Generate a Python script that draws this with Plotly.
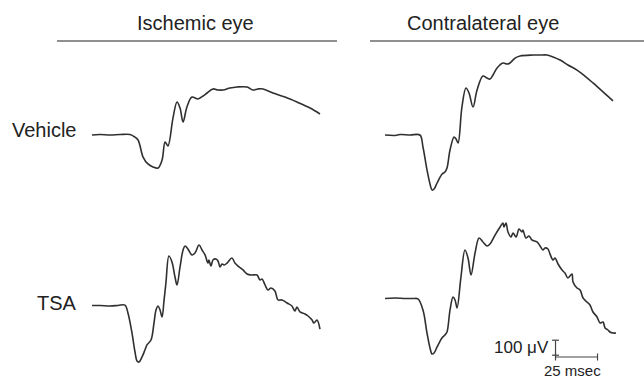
import plotly.graph_objects as go

# ERG waveforms: time in msec, amplitude in microvolts (0 = pre-flash baseline)

# Ischemic eye, vehicle
isch_veh_t = [0, 4.8, 10.7, 16.7, 22.6, 25.0, 27.4, 30.4, 33.3, 36.3, 39.3, 41.7, 43.5, 45.2,
              48.2, 50.6, 52.4, 54.2, 56.5, 59.5, 63.1, 66.1, 68.5, 72.0, 75.0, 78.0, 82.1,
              86.3, 92.3, 95.8, 98.8, 101.8, 107.7, 114.9, 122.0, 129.8, 135.7]
isch_veh_uv = [0, 3, 0, 3, 3, -10, -33, -147, -193, -213, -220, -167, -47, -73,
               113, 220, 180, 87, 187, 253, 240, 260, 280, 307, 300, 300, 313,
               320, 320, 300, 307, 307, 280, 253, 220, 180, 140]

# Contralateral eye, vehicle
contra_veh_t = [0, 6.0, 8.9, 14.9, 20.8, 22.6, 25.0, 26.8, 28.0, 29.2, 31.0, 34.0, 35.7, 36.9,
                38.7, 41.1, 42.3, 43.5, 45.8, 48.2, 50.0, 52.4, 54.8, 58.3, 60.7, 62.5, 64.3,
                66.7, 70.2, 72.6, 74.4, 77.4, 80.4, 88.1, 92.3, 96.4, 100.0, 104.2, 108.9,
                114.3, 119.0, 123.8, 129.8, 135.7]
contra_veh_uv = [0, -3, 3, 0, 0, -80, -233, -327, -367, -360, -320, -260, -247, -220,
                 -100, -13, -27, -53, 187, 313, 280, 187, 300, 393, 380, 373, 400,
                 447, 480, 473, 480, 513, 527, 533, 533, 533, 520, 500, 467,
                 433, 393, 347, 287, 227]

# Ischemic eye, TSA
isch_tsa_t = [0, 4.8, 10.7, 15.5, 19.6, 21.4, 23.8, 25.6, 26.8, 28.0, 29.8, 31.5, 32.7, 35.1,
              36.9, 38.1, 39.3, 40.5, 41.7, 42.9, 44.0, 45.8, 47.6, 49.4, 50.6, 52.4, 54.2,
              55.4, 57.1, 59.5, 61.3, 63.7, 65.5, 67.3, 69.0, 69.6, 70.8, 72.0, 73.8, 75.0,
              76.2, 77.4, 78.6, 80.4, 83.3, 85.1, 86.9, 89.9, 92.3, 95.2, 98.2, 100.0,
              101.2, 103.0, 104.8, 106.5, 108.9, 110.7, 113.1, 116.1, 119.0, 120.8, 122.0,
              123.8, 126.8, 128.6, 131.0, 132.1, 133.9, 135.7]
isch_tsa_uv = [0, 0, -3, 0, 3, -50, -183, -310, -370, -377, -343, -297, -263, -230,
               -117, -30, -3, -30, -77, 37, 150, 330, 290, 190, 137, 257, 370,
               397, 377, 337, 350, 403, 370, 337, 283, 303, 263, 303, 310, 297,
               257, 277, 270, 283, 317, 283, 263, 237, 210, 203, 203, 170,
               177, 137, 103, 117, 97, 37, 37, 17, -3, -37, -10,
               -43, -57, -70, -97, -117, -97, -157]

# Contralateral eye, TSA
contra_tsa_t = [0, 6.0, 11.9, 16.7, 19.6, 22.6, 25.0, 26.8, 28.0, 29.2, 31.0, 33.9, 35.7, 36.9,
                38.7, 40.5, 41.7, 42.9, 45.2, 47.6, 49.4, 51.2, 53.6, 56.0, 58.3, 60.7, 62.5,
                65.5, 68.5, 70.2, 70.8, 72.0, 73.2, 75.0, 76.2, 78.0, 79.8, 81.5, 82.1, 83.9,
                85.7, 87.5, 90.5, 92.3, 94.0, 95.2, 97.0, 98.2, 100.0, 101.2, 103.0, 105.4,
                107.1, 108.9, 111.3, 111.9, 114.3, 116.1, 117.9, 120.2, 122.0, 123.8, 126.2,
                128.0, 129.8, 131.0, 132.7, 133.9, 135.7, 137.5]
contra_tsa_uv = [0, 3, 0, 0, -3, -77, -230, -330, -370, -363, -323, -263, -243, -223,
                 -77, 10, -10, -63, 143, 323, 270, 157, 303, 403, 377, 350, 363,
                 423, 477, 503, 477, 503, 443, 410, 437, 410, 463, 443, 457, 403,
                 417, 390, 377, 350, 323, 337, 330, 297, 257, 270, 230, 190,
                 170, 137, 163, 110, 70, 57, 3, -23, -43, -90, -123,
                 -163, -157, -197, -210, -223, -230, -230]

# Calibration bar
SCALE_UV = 100
SCALE_MS = 25
scale_t0 = 101.5
scale_uv_bottom = -378
scale_bar_uv = -390

column_titles = ["Ischemic eye", "Contralateral eye"]
row_titles = ["Vehicle", "TSA"]

W, H = 644, 381
PX_PER_MS = 1.68
PX_PER_UV = 0.15
TRACE_COLOR = "#303030"


def panel_axes(x0, x1, y0, y1, ox, oy):
    """Axis domain/range so that t=0 sits at pixel ox and 0 uV at pixel oy."""
    xdom = [x0 / W, x1 / W]
    ydom = [1 - y1 / H, 1 - y0 / H]
    xr = [(x0 - ox) / PX_PER_MS, (x1 - ox) / PX_PER_MS]
    yr = [(oy - y1) / PX_PER_UV, (oy - y0) / PX_PER_UV]
    return xdom, xr, ydom, yr


# (pixel box, origin) for each panel
panels = [
    ((0, 340, 50, 205), (92, 135.0), isch_veh_t, isch_veh_uv),
    ((340, 644, 50, 205), (385, 135.0), contra_veh_t, contra_veh_uv),
    ((0, 340, 205, 381), (92, 305.5), isch_tsa_t, isch_tsa_uv),
    ((340, 644, 205, 381), (385, 298.5), contra_tsa_t, contra_tsa_uv),
]

fig = go.Figure()
layout = dict(
    width=W, height=H,
    margin=dict(l=0, r=0, t=0, b=0),
    paper_bgcolor="white",
    plot_bgcolor="rgba(0,0,0,0)",
    showlegend=False,
    font=dict(family="Liberation Sans, Arial, sans-serif", color="#222"),
)

for i, (box, origin, t, uv) in enumerate(panels, start=1):
    xdom, xr, ydom, yr = panel_axes(*box, *origin)
    xa = "xaxis" if i == 1 else f"xaxis{i}"
    ya = "yaxis" if i == 1 else f"yaxis{i}"
    xref = "x" if i == 1 else f"x{i}"
    yref = "y" if i == 1 else f"y{i}"
    layout[xa] = dict(domain=xdom, range=xr, visible=False, anchor=yref, fixedrange=True)
    layout[ya] = dict(domain=ydom, range=yr, visible=False, anchor=xref, fixedrange=True)
    fig.add_trace(go.Scatter(
        x=t, y=uv, xaxis=xref, yaxis=yref, mode="lines",
        line=dict(color=TRACE_COLOR, width=1.6, shape="spline", smoothing=1.0),
        hoverinfo="skip",
    ))

# Calibration bars in the lower-right panel's units
fig.add_trace(go.Scatter(
    x=[scale_t0, scale_t0], y=[scale_uv_bottom, scale_uv_bottom + SCALE_UV],
    xaxis="x4", yaxis="y4", mode="lines+markers",
    line=dict(color="#444", width=1.2),
    marker=dict(symbol="line-ew", size=5, line=dict(color="#444", width=1.2)),
    hoverinfo="skip",
))
fig.add_trace(go.Scatter(
    x=[scale_t0, scale_t0 + SCALE_MS], y=[scale_bar_uv, scale_bar_uv],
    xaxis="x4", yaxis="y4", mode="lines+markers",
    line=dict(color="#444", width=1.2),
    marker=dict(symbol="line-ns", size=5, line=dict(color="#444", width=1.2)),
    hoverinfo="skip",
))

annotations = [
    dict(text=f"{SCALE_UV} \u03bcV", x=scale_t0, y=scale_uv_bottom + SCALE_UV / 2,
         xref="x4", yref="y4", xanchor="right", yanchor="middle", xshift=-5,
         showarrow=False, font=dict(size=17)),
    dict(text=f"{SCALE_MS} msec", x=scale_t0 + SCALE_MS / 2, y=scale_bar_uv,
         xref="x4", yref="y4", xanchor="center", yanchor="top", yshift=-3, xshift=-4,
         showarrow=False, font=dict(size=15)),
    # column headers
    dict(text=column_titles[0], x=195 / W, y=1 - 23 / H, xref="paper", yref="paper",
         xanchor="center", yanchor="middle", showarrow=False, font=dict(size=20)),
    dict(text=column_titles[1], x=483 / W, y=1 - 23 / H, xref="paper", yref="paper",
         xanchor="center", yanchor="middle", showarrow=False, font=dict(size=20)),
    # row labels
    dict(text=row_titles[0], x=79 / W, y=1 - 130 / H, xref="paper", yref="paper",
         xanchor="right", yanchor="middle", showarrow=False, font=dict(size=20)),
    dict(text=row_titles[1], x=79 / W, y=1 - 303 / H, xref="paper", yref="paper",
         xanchor="right", yanchor="middle", showarrow=False, font=dict(size=20)),
]
layout["annotations"] = annotations
layout["shapes"] = [
    dict(type="line", xref="paper", yref="paper", x0=57 / W, x1=337 / W,
         y0=1 - 41 / H, y1=1 - 41 / H, line=dict(color="#222", width=1.2)),
    dict(type="line", xref="paper", yref="paper", x0=370 / W, x1=644 / W,
         y0=1 - 41 / H, y1=1 - 41 / H, line=dict(color="#222", width=1.2)),
]

fig.update_layout(**layout)
fig.write_html("out.html")
